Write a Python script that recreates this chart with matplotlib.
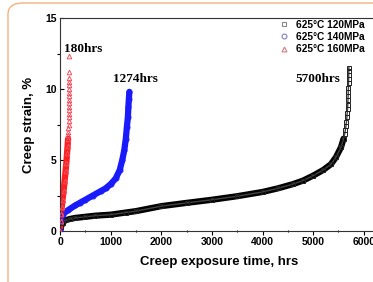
import matplotlib
matplotlib.use('Agg')
from matplotlib import pyplot as plt
from matplotlib.patches import FancyBboxPatch

# 625C, 120 MPa (ruptured ~5700 hrs)
t_120 = [0, 20, 50, 100, 200, 300, 500, 700, 1000, 1300, 1500, 2000, 2500, 3000, 3500,
         4000, 4300, 4600, 4800, 5000, 5200, 5350, 5450, 5550, 5600, 5620, 5635, 5648,
         5658, 5665, 5672, 5678, 5683, 5687, 5690, 5693, 5696, 5698, 5700, 5702, 5704, 5705]
e_120 = [0, 0.3, 0.55, 0.75, 0.85, 0.92, 1.0, 1.08, 1.15, 1.3, 1.4, 1.75, 1.98, 2.2, 2.45,
         2.75, 3.0, 3.3, 3.55, 3.9, 4.3, 4.7, 5.2, 5.9, 6.5, 6.8, 7.1, 7.4,
         7.7, 8.0, 8.3, 8.6, 8.9, 9.2, 9.5, 9.8, 10.1, 10.4, 10.7, 11.0, 11.25, 11.5]

# 625C, 140 MPa (ruptured ~1274 hrs)
t_140 = [0, 20, 60, 150, 300, 400, 500, 650, 800, 900, 1000, 1100, 1180, 1230, 1270,
         1300, 1320, 1340, 1350, 1360, 1370]
e_140 = [0, 0.8, 1.2, 1.45, 1.8, 2.0, 2.2, 2.5, 2.8, 3.0, 3.3, 3.7, 4.3, 5.0, 5.7,
         6.5, 7.3, 8.0, 8.7, 9.3, 9.8]

# 625C, 160 MPa (ruptured ~180 hrs)
t_160 = [0, 10, 20, 35, 50, 70, 90, 110, 125, 140, 150, 160, 163, 165, 167, 168, 169,
         170, 171, 172, 172, 173, 173, 174, 174, 175, 175, 176, 176, 178, 181]
e_160 = [0, 0.7, 1.2, 1.7, 2.2, 2.8, 3.5, 4.2, 4.8, 5.5, 6.0, 6.5, 6.75, 7.0, 7.25, 7.5, 7.75,
         8.0, 8.25, 8.5, 8.75, 9.0, 9.25, 9.5, 9.75, 10.0, 10.25, 10.5, 10.75, 11.2, 12.3]

labels = ['625\u00b0C 120MPa', '625\u00b0C 140MPa', '625\u00b0C 160MPa']
rupture_txt = ['5700hrs', '1274hrs', '180hrs']

fig = plt.figure(figsize=(3.73, 2.82), dpi=100)

# orange card frame
frame = FancyBboxPatch((8 / 373, -0.1), 1.2, 1.1 - 3 / 282,
                       boxstyle='round,pad=0,rounding_size=0.04',
                       transform=fig.transFigure, facecolor='none',
                       edgecolor='#f3b280', linewidth=1.0, zorder=-1)
fig.patches.append(frame)

ax = fig.add_axes([60 / 373, 51 / 282, 319 / 373, 213 / 282])
ax.patch.set_alpha(0)

# dense band only where the recorded points are dense
n120 = sum(1 for e in e_120 if e <= 6.5)
n160 = sum(1 for e in e_160 if e <= 6.5)

ax.plot(t_120[:n120], e_120[:n120], color='black', lw=4.5, zorder=2,
        solid_capstyle='round')
ax.plot(t_120, e_120, color='#444444', lw=1.0, zorder=2)
ax.plot(t_120, e_120, ls='none', marker='s', ms=3.3, mfc='none', mec='#222222', mew=0.7, zorder=3)
ax.plot(t_140, e_140, color='#1a1aff', lw=4.5, zorder=2, solid_capstyle='round')
ax.plot(t_140, e_140, ls='none', marker='o', ms=3.5, mfc='none', mec='#1a1aff', mew=0.8, zorder=3)
ax.plot(t_160[:n160], e_160[:n160], color='#ff2020', lw=4.5, zorder=2,
        solid_capstyle='round')
ax.plot(t_160, e_160, ls='none', marker='^', ms=3.3, mfc='none', mec='#f05060', mew=0.7, zorder=3)

# legend entries (faded markers)
h1, = ax.plot([], [], ls='none', marker='s', ms=3.5, mfc='none', mec='#888888', mew=0.8)
h2, = ax.plot([], [], ls='none', marker='o', ms=3.5, mfc='none', mec='#8080c0', mew=0.8)
h3, = ax.plot([], [], ls='none', marker='^', ms=3.5, mfc='none', mec='#d08080', mew=0.8)
leg = ax.legend([h1, h2, h3], labels, loc='upper left', bbox_to_anchor=(0.655, 1.035),
                frameon=False, prop={'family': 'Liberation Sans', 'weight': 'bold', 'size': 7.3},
                handletextpad=0.6, labelspacing=0.22, handlelength=1.2)

ax.text(5540, 10.7, rupture_txt[0], ha='right', va='center',
        family='Liberation Serif', weight='bold', fontsize=9.5)
ax.text(1480, 10.7, rupture_txt[1], ha='center', va='center',
        family='Liberation Serif', weight='bold', fontsize=9.5)
ax.text(70, 12.8, rupture_txt[2], ha='left', va='center',
        family='Liberation Serif', weight='bold', fontsize=9.5)

ax.set_xlim(0, 6300)
ax.set_ylim(0, 15)
ax.set_xticks([0, 1000, 2000, 3000, 4000, 5000, 6000])
ax.set_xticks(range(500, 6300, 1000), minor=True)
ax.set_yticks([0, 5, 10, 15])
ax.set_yticks([2.5, 7.5, 12.5], minor=True)
ax.tick_params(axis='x', which='major', direction='out', length=3, width=0.8, pad=1.5)
ax.tick_params(axis='x', which='minor', direction='inout', length=2, width=0.8)
ax.tick_params(axis='y', which='major', direction='in', length=3, width=0.8, pad=2.5)
ax.tick_params(axis='y', which='minor', direction='out', length=2, width=0.8)
for lab in ax.get_xticklabels() + ax.get_yticklabels():
    lab.set_family('Liberation Sans')
    lab.set_weight('bold')
    lab.set_fontsize(7.5)

for s in ['top', 'left', 'bottom']:
    ax.spines[s].set_linewidth(0.8)
    ax.spines[s].set_color('#333333')
ax.spines['right'].set_visible(False)

ax.set_xlabel('Creep exposure time, hrs', family='Liberation Sans', weight='bold',
              fontsize=9.5, labelpad=6)
ax.set_ylabel('Creep strain, %', family='Liberation Sans', weight='bold',
              fontsize=9.5, labelpad=7)

fig.savefig('out.png', dpi=100)
